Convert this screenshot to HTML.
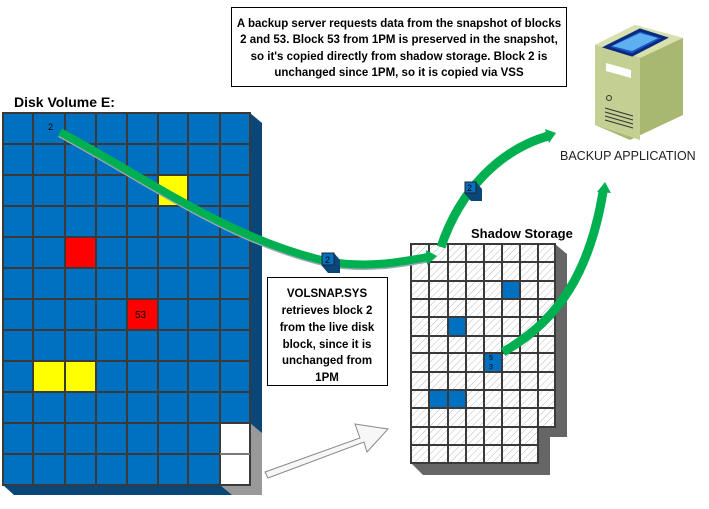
<!DOCTYPE html>
<html><head><meta charset="utf-8"><style>
body{margin:0;background:#fff;width:709px;height:504px;overflow:hidden}
svg text{font-family:"Liberation Sans",sans-serif}
</style></head><body>
<svg width="709" height="504" viewBox="0 0 709 504" xmlns="http://www.w3.org/2000/svg">
<defs>
<pattern id="h" width="5" height="5" patternUnits="userSpaceOnUse" patternTransform="rotate(45)">
<rect width="5" height="5" fill="#fff"/><line x1="0" y1="0" x2="0" y2="5" stroke="#bbb" stroke-width="1"/>
</pattern>
</defs>
<polygon points="250,113 262,123 262,495 14,495 3,485 250,485" fill="#0a4677"/>
<polygon points="250,423 262,433 262,495 232,495 220,485 250,485" fill="#999"/>
<g stroke="#3a3a3a" stroke-width="2">
<rect x="3" y="113" width="247" height="372" fill="#0070C0"/>
<rect x="158" y="175" width="30" height="31" fill="#ff0"/>
<rect x="65" y="237" width="31" height="31" fill="#f00"/>
<rect x="127" y="299" width="31" height="31" fill="#f00"/>
<rect x="33" y="361" width="63" height="31" fill="#ff0"/>
<rect x="220" y="423" width="30" height="62" fill="#fff"/>
<path d="M33 113V485M65 113V485M96 113V485M127 113V485M158 113V485M188 113V485M220 113V485M3 144H250M3 175H250M3 206H250M3 237H250M3 268H250M3 299H250M3 330H250M3 361H250M3 392H250M3 423H250M3 454H250" fill="none"/>
</g>
<path d="M220 454H250" stroke="#bbb" stroke-width="1"/>
<text x="48" y="130" font-size="9">2</text>
<text x="135" y="318" font-size="10">53</text>
<text x="14" y="107" font-size="14" font-weight="bold">Disk Volume E:</text>
<polygon points="555,244 567,254 567,437 550,437 550,475 423,475 411,463 538,463 538,427 555,427" fill="#666"/>
<g stroke="#3a3a3a" stroke-width="2">
<path d="M411 244H555V427H538V463H411Z" fill="url(#h)"/>
<rect x="502" y="281" width="18" height="18" fill="#0070C0"/>
<rect x="448" y="317" width="18" height="19" fill="#0070C0"/>
<rect x="484" y="353" width="18" height="19" fill="#0070C0"/>
<rect x="429" y="390" width="37" height="18" fill="#0070C0"/>
<path d="M429 244V463M448 244V463M466 244V463M484 244V463M502 244V463M520 244V463M538 244V427M411 262H555M411 281H555M411 299H555M411 317H555M411 336H555M411 353H555M411 372H555M411 390H555M411 408H555M411 427H538M411 445H538" fill="none"/>
</g>
<text x="489" y="360" font-size="7">5</text><text x="489" y="369" font-size="7">3</text>
<text x="471" y="238" font-size="13" font-weight="bold">Shadow Storage</text>
<g fill="none" stroke-linecap="butt">
<path d="M60 132 C150 180 230 240 330 262 C370 268 400 262 428 257" stroke="#9aa8b8" stroke-width="8" transform="translate(0,1.5)"/>
<path d="M60 132 C150 180 230 240 330 262 C370 268 400 262 428 257" stroke="#00b050" stroke-width="8"/>
<path d="M441 247 C460 190 500 150 548 136" stroke="#00b050" stroke-width="9"/>
<path d="M503 352 C560 320 590 270 603 192" stroke="#00b050" stroke-width="9"/>
</g>
<polygon points="426,250 437,256 427,265" fill="#00b050"/>
<polygon points="545,129 556,133 549,143" fill="#00b050"/>
<polygon points="597,192 605,182 611,193" fill="#00b050"/>
<polygon points="322,253 334,253 340,260 340,273 328,273 322,266" fill="#0a4677"/>
<rect x="322" y="253" width="12" height="12" fill="#0070C0" stroke="#223" stroke-width="1"/>
<text x="325" y="263" font-size="9">2</text>
<polygon points="465,182 476,182 482,189 482,201 471,201 465,194" fill="#0a4677"/>
<rect x="465" y="182" width="11" height="11" fill="#0070C0" stroke="#223" stroke-width="1"/>
<text x="467" y="191" font-size="9">2</text>
<polygon points="265,472 360,438 355,424 388,429 367,452 364,442 268,478" fill="#f7f7f7" stroke="#888" stroke-width="1"/>
<rect x="231.5" y="7.5" width="335" height="79" fill="#fff" stroke="#000"/>
<g font-size="11.5" font-weight="bold" text-anchor="middle">
<text x="399" y="27">A backup server requests data from the snapshot of blocks</text>
<text x="399" y="43">2 and 53.  Block 53 from 1PM is preserved in the snapshot,</text>
<text x="399" y="60">so it's copied directly from shadow storage.  Block 2 is</text>
<text x="399" y="76">unchanged since 1PM, so it is copied via VSS</text>
</g>
<rect x="267.5" y="277.5" width="120" height="108" fill="#fff" stroke="#000"/>
<g font-size="11.5" font-weight="bold" text-anchor="middle">
<text x="327" y="297">VOLSNAP.SYS</text>
<text x="327" y="314">retrieves block 2</text>
<text x="327" y="331">from the live disk</text>
<text x="327" y="348">block, since it is</text>
<text x="327" y="364">unchanged from</text>
<text x="327" y="381">1PM</text>
</g>
<polygon points="595,45 635,25 683,38 683,115 630,140 595,125" fill="#a8b870"/>
<polygon points="595,45 635,25 683,38 640,58" fill="#d8e0b0"/>
<polygon points="595,45 640,58 640,140 595,125" fill="#c4cf94"/>
<polygon points="606,63 631,70 631,78 606,71" fill="#fff"/>
<circle cx="609" cy="98" r="2.5" fill="none" stroke="#333"/>
<path d="M605 108l28 8M605 112l28 8M605 116l28 8M605 120l28 8" stroke="#333" stroke-width="1"/>
<path d="M606 47 L640 30 L665 38 L632 55Z" fill="#1a56c0" stroke="#0a2a80" stroke-width="3"/>
<path d="M612 46 L640 33 L658 38 L632 51Z" fill="#5fb0f0"/>
<text x="560" y="160" font-size="12.5" fill="#222">BACKUP APPLICATION</text>
</svg>
</body></html>
